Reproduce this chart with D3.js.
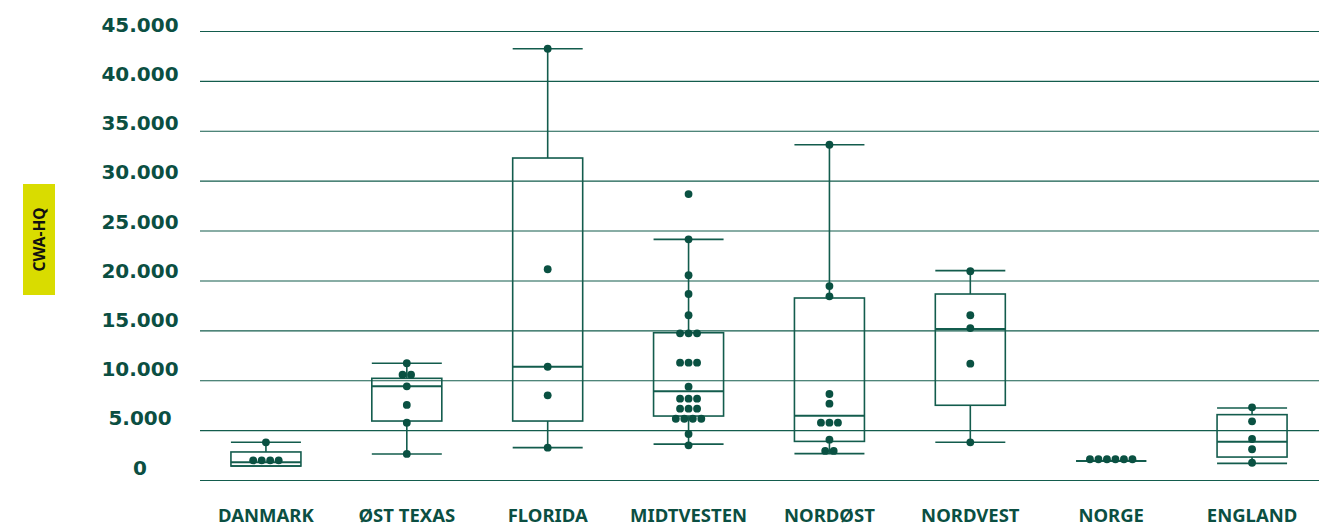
<!DOCTYPE html>
<html>
<head>
<meta charset="utf-8">
<script src="https://cdn.jsdelivr.net/npm/d3@7"></script>
<style>
  html, body { margin: 0; padding: 0; background: #ffffff; }
  svg { display: block; }
</style>
</head>
<body>
<svg id="chart" width="1319" height="524"></svg>
<script>
// ---------- DATA ----------
const categories = ["DANMARK", "ØST TEXAS", "FLORIDA", "MIDTVESTEN", "NORDØST", "NORDVEST", "NORGE", "ENGLAND"];
const mins    = [1400,  2600,  3240,  3600,  2640,  3780,  1900, 1670];
const q1s     = [1400,  5910,  5910,  6410,  3870,  7490,  1900, 2300];
const medians = [1770,  9390, 11350,  8890,  6450, 15130,  1900, 3840];
const q3s     = [2810, 10190, 32270, 14760, 18240, 18640,  1900, 6550];
const maxs    = [3780, 11700, 43220, 24120, 33600, 20980,  1900, 7220];
const points = [
  [1970, 1970, 1970, 1970, 3780],
  [11700, 10550, 10550, 9390, 7520, 5740, 2610],
  [43220, 21120, 11350, 8490, 3240],
  [28660, 24120, 20520, 18640, 16510, 14700, 14700, 14700, 11760, 11760, 11760, 9350,
   8150, 8150, 8150, 7150, 7150, 7150, 6140, 6140, 6140, 6140, 4610, 3480],
  [33600, 19440, 18410, 8620, 7650, 5750, 5750, 5750, 4040, 2910, 2910],
  [20920, 16510, 15230, 11660, 3780],
  [2080, 2080, 2080, 2080, 2080, 2080],
  [7280, 5880, 4110, 3080, 1730]
];
const yTicks = [0, 5000, 10000, 15000, 20000, 25000, 30000, 35000, 40000, 45000];
const yTitle = "CWA-HQ";

// ---------- STYLE ----------
const green = "#0a5142";
const lineGreen = "#135c4d";
const textGreen = "#0b4f42";

const svg = d3.select("#chart");

const y = d3.scaleLinear().domain([0, 45000]).range([480, 31]);
// tick labels sit slightly above their gridlines, on a slightly tighter spacing
const yLabel = d3.scaleLinear().domain([0, 45000]).range([467, 24]);
const x = d3.scaleBand().domain(categories).range([195.5, 1322.5]).padding(0);
const boxW = 70;

const locale = d3.formatLocale({decimal: ",", thousands: ".", grouping: [3], currency: ["", ""]});
const fmt = locale.format(",d");

// gridlines + tick labels via axis
const yAxis = d3.axisLeft(y)
  .tickValues(yTicks)
  .tickSizeInner(-(1319 - 200))
  .tickSizeOuter(0)
  .tickFormat(fmt);

const gy = svg.append("g").attr("transform", "translate(200,0)").call(yAxis);
gy.select(".domain").remove();
gy.selectAll(".tick line").attr("stroke", lineGreen).attr("stroke-width", 1.1);
gy.selectAll(".tick text")
  .attr("x", -60)
  .attr("y", d => yLabel(d) - y(d))
  .attr("dy", "0.36em")
  .attr("text-anchor", "middle")
  .attr("fill", textGreen)
  .style("font-family", "'DejaVu Sans', sans-serif")
  .style("font-weight", "bold")
  .style("font-size", "20px");

// x labels
const xAxis = d3.axisBottom(x).tickSize(0).tickPadding(0);
const gx = svg.append("g").attr("transform", "translate(0,506)").call(xAxis);
gx.select(".domain").remove();
gx.selectAll(".tick text")
  .attr("y", 16)
  .attr("dy", 0)
  .attr("fill", textGreen)
  .style("font-family", "'Noto Sans', sans-serif")
  .style("font-weight", "bold")
  .style("font-size", "18.5px");

// y title
svg.append("rect")
  .attr("x", 23).attr("y", 184).attr("width", 32).attr("height", 111)
  .attr("fill", "#d9dc00");
svg.append("text")
  .attr("transform", "translate(45,239.5) rotate(-90)")
  .attr("text-anchor", "middle")
  .attr("fill", "#111")
  .style("font-family", "'Noto Sans', sans-serif")
  .style("font-weight", "bold")
  .style("font-size", "15.5px")
  .text(yTitle);

// boxes
const boxes = svg.append("g");
categories.forEach((c, i) => {
  const cx = x(c) + x.bandwidth() / 2;
  const g = boxes.append("g")
    .attr("fill", "none")
    .attr("stroke", lineGreen)
    .attr("stroke-width", 1.6);
  g.append("line").attr("x1", cx).attr("x2", cx).attr("y1", y(q3s[i])).attr("y2", y(maxs[i]));
  g.append("line").attr("x1", cx).attr("x2", cx).attr("y1", y(q1s[i])).attr("y2", y(mins[i]));
  g.append("line").attr("x1", cx - boxW / 2).attr("x2", cx + boxW / 2).attr("y1", y(maxs[i])).attr("y2", y(maxs[i]));
  g.append("line").attr("x1", cx - boxW / 2).attr("x2", cx + boxW / 2).attr("y1", y(mins[i])).attr("y2", y(mins[i]));
  g.append("rect")
    .attr("x", cx - boxW / 2).attr("width", boxW)
    .attr("y", y(q3s[i])).attr("height", Math.max(0, y(q1s[i]) - y(q3s[i])));
  g.append("line").attr("x1", cx - boxW / 2).attr("x2", cx + boxW / 2)
    .attr("y1", y(medians[i])).attr("y2", y(medians[i]))
    .attr("stroke-width", 2);
});

// dots (simple swarm: equal values side by side)
const dotsG = svg.append("g").attr("fill", green);
const spacing = 8.5;
categories.forEach((c, i) => {
  const cx = x(c) + x.bandwidth() / 2;
  const groups = d3.groups(points[i], d => d);
  groups.forEach(([v, arr]) => {
    const n = arr.length;
    arr.forEach((d, k) => {
      dotsG.append("circle")
        .attr("cx", cx + (k - (n - 1) / 2) * spacing)
        .attr("cy", y(d))
        .attr("r", 3.9);
    });
  });
});
</script>
</body>
</html>
